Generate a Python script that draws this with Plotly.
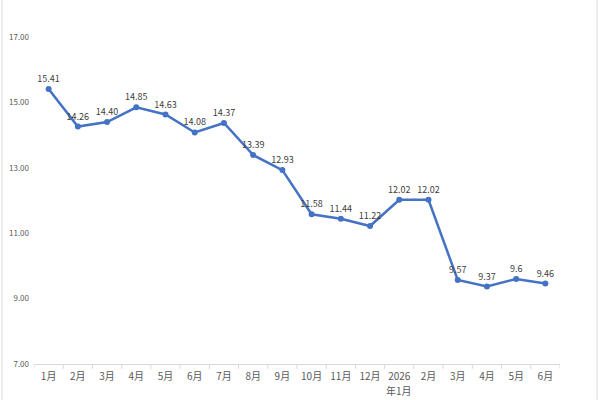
import plotly.graph_objects as go

categories = ["1月", "2月", "3月", "4月", "5月", "6月", "7月", "8月", "9月",
              "10月", "11月", "12月", "2026", "2月", "3月", "4月", "5月", "6月"]
category_sub = {12: "年1月"}
values = [15.41, 14.26, 14.40, 14.85, 14.63, 14.08, 14.37, 13.39, 12.93,
          11.58, 11.44, 11.22, 12.02, 12.02, 9.57, 9.37, 9.6, 9.46]
labels = ["15.41", "14.26", "14.40", "14.85", "14.63", "14.08", "14.37", "13.39", "12.93",
          "11.58", "11.44", "11.22", "12.02", "12.02", "9.57", "9.37", "9.6", "9.46"]
y_ticks = [7, 9, 11, 13, 15, 17]
y_tick_text = ["7.00", "9.00", "11.00", "13.00", "15.00", "17.00"]

x_idx = list(range(len(categories)))

fig = go.Figure(go.Scatter(
    x=x_idx, y=values, mode="lines+markers+text",
    text=labels, textposition="top center",
    textfont=dict(size=9, color="#404040"),
    line=dict(color="#4472C4", width=2.5),
    marker=dict(color="#4472C4", size=6),
    cliponaxis=False,
))

fig.update_layout(
    width=600, height=400,
    margin=dict(l=34, r=40, t=37, b=36),
    paper_bgcolor="white", plot_bgcolor="white",
    font=dict(family="Noto Sans CJK SC", color="#595959"),
    showlegend=False,
    xaxis=dict(
        tickmode="array", tickvals=x_idx, ticktext=categories,
        range=[-0.5, len(categories) - 0.5],
        showgrid=False, zeroline=False, automargin=False,
        showline=True, linecolor="#d9d9d9", linewidth=1,
        tickfont=dict(size=10, color="#595959"),
        ticks="", ticklen=0, ticklabelstandoff=3,
    ),
    yaxis=dict(
        range=[7, 17], tickvals=y_ticks, ticktext=y_tick_text,
        showgrid=False, zeroline=False, showline=False, automargin=False,
        tickfont=dict(size=8, color="#595959"),
        ticklabelstandoff=4,
    ),
)

for i, sub in category_sub.items():
    fig.add_annotation(x=i, xref="x", y=0, yref="paper", text=sub,
                       showarrow=False, yanchor="middle", yshift=-26,
                       font=dict(size=10, color="#595959"))

# boundary tick marks between categories
shapes = []
for i in range(len(categories) + 1):
    shapes.append(dict(type="line", xref="x", yref="paper",
                       x0=i - 0.5, x1=i - 0.5, y0=0, y1=-0.015,
                       line=dict(color="#d9d9d9", width=1)))
# chart border
shapes.append(dict(type="rect", xref="paper", yref="paper",
                   x0=-32 / 526, x1=1 + 37 / 526, y0=-40 / 327, y1=1 + 60 / 327,
                   line=dict(color="#d9d9d9", width=1), layer="below"))
fig.update_layout(shapes=shapes)

fig.write_html("out.html")
